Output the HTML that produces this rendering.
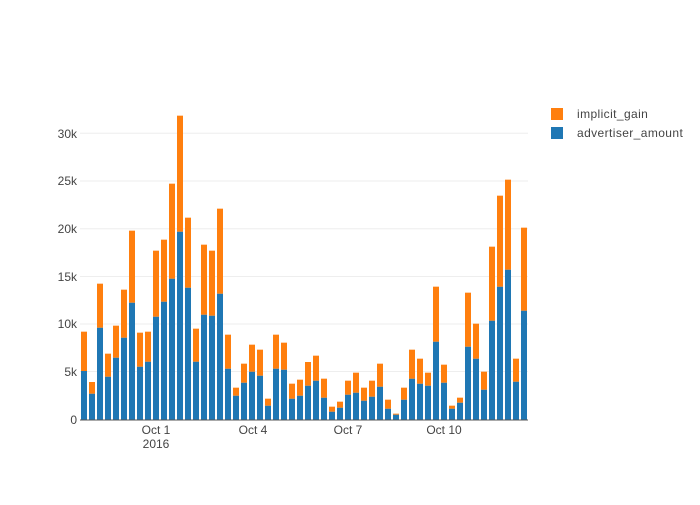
<!DOCTYPE html>
<html><head><meta charset="utf-8"><style>
html,body{margin:0;padding:0;background:#fff;}
svg text{font-family:"Liberation Sans",sans-serif;font-size:12px;fill:#444;}
</style></head><body>
<svg id="s" width="700" height="500" xmlns="http://www.w3.org/2000/svg">
<g stroke="#eee" stroke-width="1">
<line x1="80" x2="528" y1="371.5" y2="371.5"/>
<line x1="80" x2="528" y1="324" y2="324"/>
<line x1="80" x2="528" y1="276.5" y2="276.5"/>
<line x1="80" x2="528" y1="228.7" y2="228.7"/>
<line x1="80" x2="528" y1="181" y2="181"/>
<line x1="80" x2="528" y1="133.3" y2="133.3"/>
</g>
<g id="bars"></g>
<line x1="80" x2="528" y1="420" y2="420" stroke="#555" stroke-width="1"/>
<g text-anchor="end">
<text x="77" y="424">0</text>
<text x="77" y="376">5k</text>
<text x="77" y="328">10k</text>
<text x="77" y="281">15k</text>
<text x="77" y="233">20k</text>
<text x="77" y="185">25k</text>
<text x="77" y="138">30k</text>
</g>
<g text-anchor="middle">
<text x="156" y="434">Oct 1</text>
<text x="156" y="448">2016</text>
<text x="253" y="434">Oct 4</text>
<text x="348" y="434">Oct 7</text>
<text x="444" y="434">Oct 10</text>
</g>
<rect x="551" y="108" width="12" height="12" fill="#ff7f0e"/>
<text x="577" y="118" style="letter-spacing:0.4px">implicit_gain</text>
<rect x="551" y="127" width="12" height="12" fill="#1f77b4"/>
<text x="577" y="137" style="letter-spacing:0.4px">advertiser_amount</text>
</svg>
<script>
var z1=[[665,783],[816,851],[521,653],[731,800],[647,743],[539,683],[362,578],[668,770],[665,755],[422,620],[389,575],[221,506],[17,365],[323,533],[656,755],[404,614],[422,617],[296,551],[674,776],[833,857],[761,818],[704,785],[719,797],[866,887],[674,776],[698,779],[821,866],[809,857]];
var z2=[[576,647],[557,632],[626,683],[710,725],[695,713],[632,674],[608,668],[653,692],[632,680],[581,650],[689,716],[731,734],[653,689],[539,626],[566,641],[608,647],[350,515],[584,638],[707,716],[683,698],[368,530],[461,566],[605,659],[230,452],[77,350],[29,299],[566,635],[173,422]];
var d=[];z1.forEach(function(p){d.push([110+p[0]/3,110+p[1]/3]);});z2.forEach(function(p){d.push([170+p[0]/3,170+p[1]/3]);});
var h='',b=420;
d.forEach(function(p,i){var x=81+i*8;
h+='<rect x="'+x+'" y="'+p[1]+'" width="6" height="'+(b-p[1])+'" fill="#1f77b4"/>';
h+='<rect x="'+x+'" y="'+p[0]+'" width="6" height="'+(p[1]-p[0])+'" fill="#ff7f0e"/>';});
document.getElementById('bars').innerHTML=h;
</script>
</body></html>
